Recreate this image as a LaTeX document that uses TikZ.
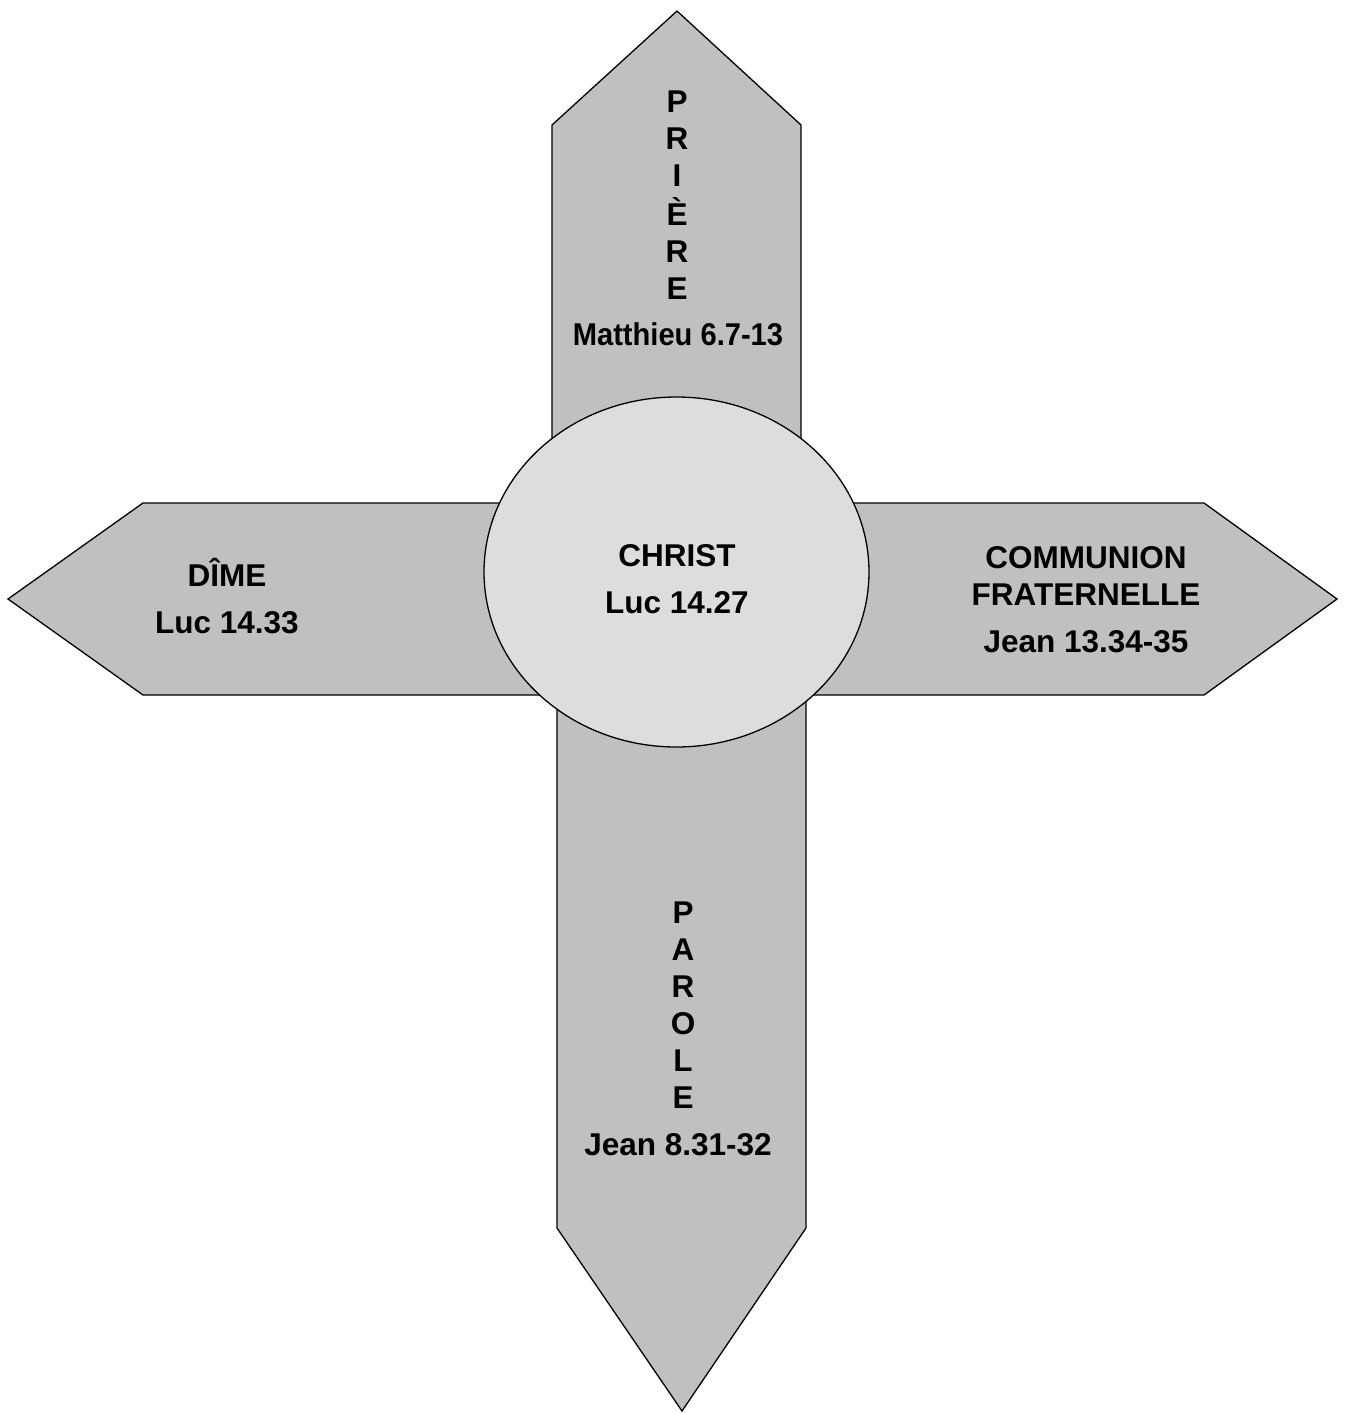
\documentclass[tikz,border=0pt]{standalone}
\usepackage{fontspec}
\setmainfont{Liberation Sans}
\begin{document}
\begin{tikzpicture}[x=1pt,y=-1pt,
  armshape/.style={fill=armgray,draw=black,line width=1.3pt,line join=miter},
  hubshape/.style={fill=hubgray,draw=black,line width=1.3pt},
  lbl/.style={inner sep=0pt,anchor=base,font=\bfseries\fontsize{31.5}{37}\selectfont}]
\definecolor{armgray}{HTML}{C0C0C0}
\definecolor{hubgray}{HTML}{DDDDDD}
\useasboundingbox (0,0) rectangle (1345,1414);
% arms
\draw[armshape] (552,572) -- (552,125) -- (677,11) -- (801,125) -- (801,572) -- cycle;
\draw[armshape] (557,572) -- (806,572) -- (806,1228) -- (682,1411) -- (557,1228) -- cycle;
\draw[armshape] (677,503) -- (143,503) -- (8,599) -- (143,695) -- (677,695) -- cycle;
\draw[armshape] (677,503) -- (1204,503) -- (1337,599) -- (1204,695) -- (677,695) -- cycle;
% hub
\draw[hubshape] (676.5,572) ellipse [x radius=192.5, y radius=175];
% labels
\node[lbl] (priere) at (677,112) {\begin{tabular}[t]{@{}c@{}}P\\R\\I\\È\\R\\E\end{tabular}};
\node[lbl] (priereRef) at (678,345) {\scalebox{0.924}[1]{Matthieu 6.7-13}};
\node[lbl] (dime) at (227,586) {\begin{tabular}[t]{@{}c@{}}DÎME\\[10pt]Luc 14.33\end{tabular}};
\node[lbl] (christ) at (677,566) {\begin{tabular}[t]{@{}c@{}}CHRIST\\[10.5pt]Luc 14.27\end{tabular}};
\node[lbl] (communion) at (1086,568) {\begin{tabular}[t]{@{}c@{}}COMMUNION\\FRATERNELLE\\[10pt]Jean 13.34-35\end{tabular}};
\node[lbl] (parole) at (683,923) {\begin{tabular}[t]{@{}c@{}}P\\A\\R\\O\\L\\E\end{tabular}};
\node[lbl] (paroleRef) at (678,1155) {Jean 8.31-32};
\end{tikzpicture}
\end{document}
